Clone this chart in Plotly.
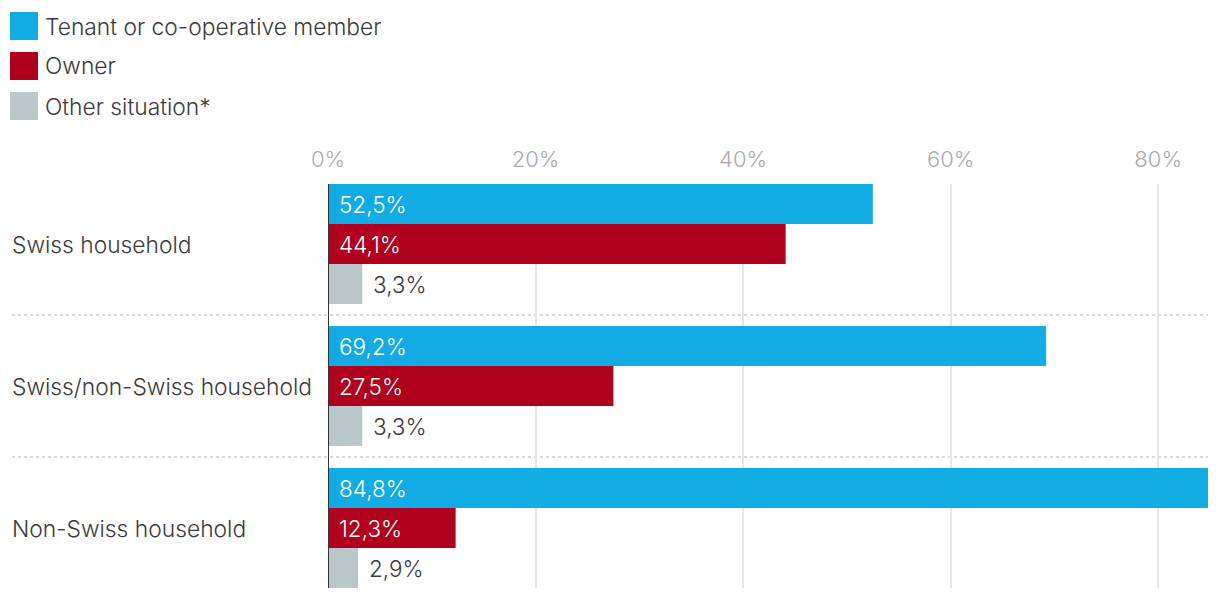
import plotly.graph_objects as go

categories = ["Swiss household", "Swiss/non-Swiss household", "Non-Swiss household"]
series_names = ["Tenant or co-operative member", "Owner", "Other situation*"]
tenant = [52.5, 69.2, 84.8]
owner = [44.1, 27.5, 12.3]
other = [3.3, 3.3, 2.9]
tick_vals = [0, 20, 40, 60, 80]
tick_text = ["0%", "20%", "40%", "60%", "80%"]

colors = ["#12ACE4", "#B0001E", "#B9C6CA"]
series = [tenant, owner, other]

FONT = "Inter"
WT = 300
fig = go.Figure()
for name, vals, col in zip(series_names, series, colors):
    fig.add_trace(go.Bar(
        y=categories, x=vals, name=name, orientation="h",
        marker=dict(color=col, line=dict(width=0)),
        hoverinfo="skip", showlegend=False,
    ))

W, H = 1220, 600
L, R, T, B = 328, 12, 184, 12
pw = W - L - R
ph = H - T - B
def px_x(x):
    return (x - L) / pw
def px_y(y):
    return 1 - (y - T) / ph

fmt = lambda v: f"{v:.1f}".replace(".", ",") + "%"
annotations = []
shifts = [40, 0, -40]
for i, vals in enumerate(series):
    for cat, v in zip(categories, vals):
        inside = i < 2
        annotations.append(dict(x=0 if inside else v, y=cat, xref="x", yref="y", text=fmt(v),
                                xanchor="left", yanchor="middle", xshift=9, yshift=shifts[i],
                                showarrow=False,
                                font=dict(family=FONT, size=22.5, color="white" if inside else "#3A3A3A", weight=WT)))

# category labels on the left
for cat in categories:
    annotations.append(dict(x=px_x(10), y=cat, xref="paper", yref="y", text=cat,
                            xanchor="left", yanchor="middle", showarrow=False,
                            font=dict(family=FONT, size=22.8, color="#3A3A3A", weight=WT)))

shapes = []
# dotted separators between groups
for yv in [0.5, 1.5]:
    shapes.append(dict(type="line", xref="paper", yref="y", x0=px_x(12), x1=1, y0=yv, y1=yv,
                       line=dict(color="#CCCCCC", width=1.5, dash="dot"), layer="below"))
# zero axis line
shapes.append(dict(type="line", xref="x", yref="paper", x0=0, x1=0, y0=0, y1=1,
                   line=dict(color="#333333", width=2), layer="above"))

# legend
for i, (name, col) in enumerate(zip(series_names, colors)):
    y0 = 12 + 40 * i
    shapes.append(dict(type="rect", xref="paper", yref="paper",
                       x0=px_x(10), x1=px_x(38), y0=px_y(y0 + 28), y1=px_y(y0),
                       fillcolor=col, line=dict(width=0)))
    annotations.append(dict(x=px_x(43), y=px_y(y0 + 14), xref="paper", yref="paper", text=name,
                            xanchor="left", yanchor="middle", showarrow=False,
                            font=dict(family=FONT, size=22.8, color="#3A3A3A", weight=WT)))

fig.update_layout(
    width=W, height=H,
    margin=dict(l=L, r=R, t=T, b=B, autoexpand=False),
    barmode="group", bargap=0.155, bargroupgap=0,
    plot_bgcolor="white", paper_bgcolor="white",
    xaxis=dict(side="top", range=[0, 84.8], tickvals=tick_vals, ticktext=tick_text,
               showgrid=True, gridcolor="#E6E6E6", gridwidth=2,
               zeroline=False,
               tickfont=dict(family=FONT, size=22, color="#AAAAAA", weight=WT),
               ticks="", ticklabelstandoff=12, fixedrange=True),
    yaxis=dict(categoryorder="array", categoryarray=categories,
               range=[2.4225, -0.4225], showticklabels=False, showgrid=False,
               zeroline=False, ticks="", fixedrange=True),
    annotations=annotations, shapes=shapes,
    font=dict(family=FONT),
)

fig.write_html("out.html", config={"displayModeBar": False},
               post_script="document.body.style.margin='0px';")
